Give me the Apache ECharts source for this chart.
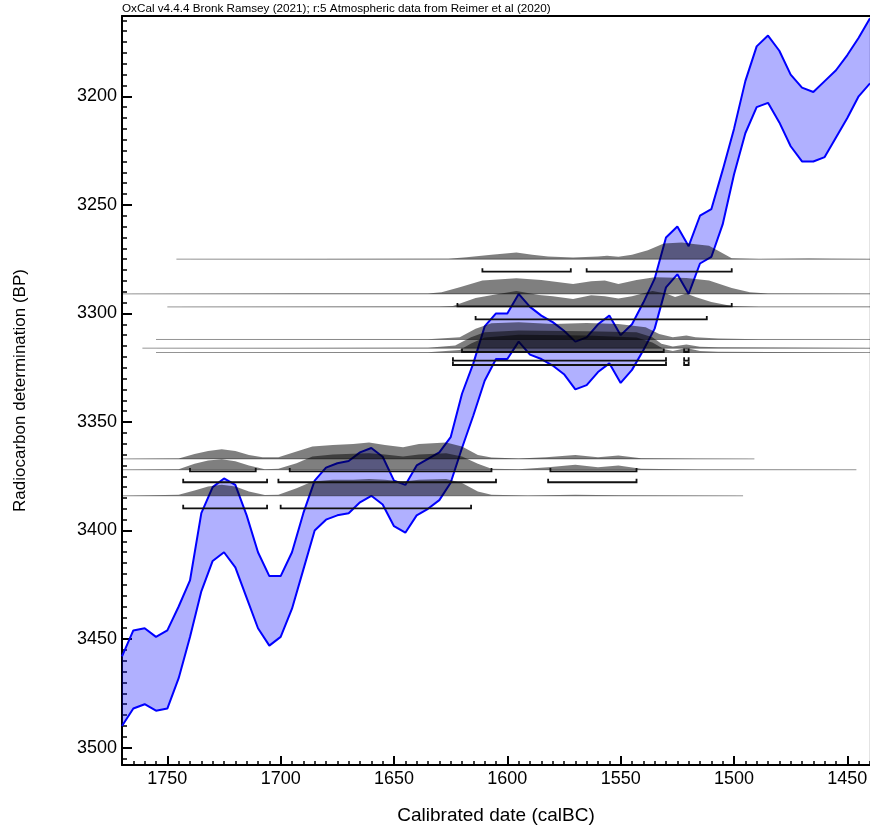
<!DOCTYPE html>
<html><head><meta charset="utf-8">
<script src="https://cdn.jsdelivr.net/npm/echarts@6/dist/echarts.min.js"></script>
<style>html,body{margin:0;padding:0;background:#fff}#c{width:870px;height:833px}</style>
</head><body><div id="c"></div>
<script>
const TITLE = 'OxCal v4.4.4 Bronk Ramsey (2021); r:5 Atmospheric data from Reimer et al (2020)';
const X_NAME = 'Calibrated date (calBC)';
const Y_NAME = 'Radiocarbon determination (BP)';
const X_TICKS = [1750, 1700, 1650, 1600, 1550, 1500, 1450];
const Y_TICKS = [3200, 3250, 3300, 3350, 3400, 3450, 3500];

// Calibration curve (cal BC, BP): upper and lower 1-sigma edges
const CURVE_YEARS = [1770,1765,1760,1755,1750,1745,1740,1735,1730,1725,1720,1715,1710,1705,1700,1695,1690,1685,1680,1675,1670,1665,1660,1655,1650,1645,1640,1635,1630,1625,1620,1615,1610,1605,1600,1595,1590,1585,1580,1575,1570,1565,1560,1555,1550,1545,1540,1535,1530,1525,1520,1515,1510,1505,1500,1495,1490,1485,1480,1475,1470,1465,1460,1455,1450,1445,1440];
const CURVE_UPPER = [3458,3446,3445,3449,3446,3435,3423,3392,3380,3376,3379,3393,3410,3421,3421,3410,3392,3377,3371,3369,3368,3364,3362,3366,3377,3379,3370,3367,3364,3357,3337,3323,3306,3300,3300,3291,3297,3301,3304,3308,3313,3311,3305,3301,3310,3305,3295,3284,3265,3260,3269,3255,3252,3234,3215,3193,3177,3172,3179,3190,3196,3198,3193,3188,3181,3173,3164];
const CURVE_LOWER = [3490,3482,3480,3483,3482,3468,3449,3428,3414,3410,3417,3431,3445,3453,3449,3436,3418,3400,3395,3393,3392,3387,3384,3388,3398,3401,3393,3390,3386,3378,3362,3347,3331,3321,3321,3313,3319,3321,3324,3328,3335,3333,3327,3323,3332,3326,3317,3307,3288,3282,3291,3277,3274,3259,3236,3217,3205,3203,3212,3223,3230,3230,3228,3219,3210,3200,3194];

// Radiocarbon determinations (BP) of the plotted samples
const DATE_BP = [3275, 3291, 3297, 3312, 3316, 3318, 3367, 3372, 3384];

// Calibrated distributions: [cal BC, relative probability]
const DIST_1 = [[1746,0],[1626,0.3],[1618,2],[1607,4.3],[1596,6.6],[1589,4.3],[1582,2.6],[1571,1.6],[1560,2.6],[1556,3.3],[1551,2.3],[1545,4.3],[1538,9],[1531,15.6],[1523,16.6],[1517,15],[1511,13.3],[1507,8.3],[1501,1],[1489,0.2],[1467,0.6],[1457,0.4],[1440,0.1]];
const DIST_2 = [[1770,0],[1692,0.3],[1652,0.4],[1635,0.5],[1629,1.6],[1621,6.6],[1611,13.3],[1596,15.6],[1585,14],[1571,10],[1563,12.6],[1557,13.3],[1551,10],[1543,14],[1535,16.6],[1521,16],[1511,13.3],[1501,6],[1493,1.6],[1485,0.4],[1440,0.2]];
const DIST_3 = [[1750,0],[1630,0.3],[1624,1],[1614,9],[1604,13],[1596,16],[1586,12],[1580,10.6],[1571,8],[1563,11.6],[1557,10.6],[1551,8.3],[1545,10.6],[1536,16],[1530,13.3],[1526,10],[1521,13.3],[1517,10],[1510,5],[1501,0.8],[1489,0.2],[1440,0.1]];
const DIST_4 = [[1755,0],[1635,0.3],[1621,2.3],[1614,10.7],[1607,16.3],[1595,17.3],[1580,15.6],[1565,16.6],[1551,15.6],[1539,12.3],[1533,5.6],[1527,2.3],[1521,4],[1517,2.3],[1507,1],[1489,0.3],[1440,0.1]];
const DIST_5 = [[1761,0],[1635,0.3],[1623,2.7],[1616,11],[1610,16],[1595,17.7],[1565,17],[1543,16],[1536,11],[1532,4.4],[1527,1.7],[1521,3.7],[1515,1.5],[1507,0.8],[1440,0.1]];
const DIST_6 = [[1755,0],[1635,0.3],[1621,2.4],[1616,9],[1610,15],[1595,17.7],[1565,17],[1543,15],[1536,10],[1531,3.4],[1527,1.5],[1521,4.4],[1515,1.5],[1507,0.8],[1440,0.1]];
const DIST_7 = [[1770,0],[1745,0.4],[1738,5],[1732,8],[1726,9.6],[1720,8],[1714,4],[1708,1.6],[1701,1.6],[1693,7.3],[1686,12.3],[1677,14],[1668,15],[1661,16.3],[1654,14],[1646,11.6],[1639,15],[1627,16.3],[1620,12.3],[1613,4],[1607,1.3],[1595,0.5],[1583,1.6],[1570,4],[1560,1.6],[1551,3.3],[1541,0.6],[1516,0.2],[1491,0]];
const DIST_8 = [[1770,0],[1745,0.4],[1738,6],[1732,9.3],[1726,10.6],[1720,8.6],[1714,4.3],[1707,0.6],[1701,1],[1693,6.6],[1686,13.3],[1677,15.3],[1668,16],[1661,16.6],[1654,15.3],[1646,13.3],[1639,15.3],[1627,16.6],[1620,13.3],[1613,6],[1607,1],[1595,0.6],[1582,2.6],[1570,5],[1560,2.6],[1551,4.3],[1541,1],[1516,0.3],[1446,0]];
const DIST_9 = [[1770,0],[1745,1],[1738,5.3],[1732,9.3],[1726,11],[1720,9.3],[1714,4.3],[1707,0.7],[1701,1],[1693,7.6],[1686,14.3],[1677,16],[1668,16],[1661,16.7],[1654,16],[1646,14.3],[1639,16],[1627,16.7],[1620,12.7],[1613,4.3],[1607,1],[1591,0.4],[1570,1],[1551,0.5],[1496,0]];

// 95.4% ranges (cal BC from, to)
const RANGES_1 = [[1611,1572],[1565,1501]];
const RANGES_2 = [[1622,1501]];
const RANGES_3 = [[1614,1512]];
const RANGES_4 = [[1620,1531],[1522,1520]];
const RANGES_5 = [[1624,1530],[1522,1520]];
const RANGES_6 = [[1624,1530],[1522,1520]];
const RANGES_7 = [[1740,1711],[1696,1607],[1581,1543]];
const RANGES_8 = [[1743,1706],[1701,1605],[1582,1543]];
const RANGES_9 = [[1743,1706],[1700,1616]];

const DISTS = [DIST_1, DIST_2, DIST_3, DIST_4, DIST_5, DIST_6, DIST_7, DIST_8, DIST_9];
const RANGES = [RANGES_1, RANGES_2, RANGES_3, RANGES_4, RANGES_5, RANGES_6, RANGES_7, RANGES_8, RANGES_9];

const FONT = '"Liberation Sans", Arial, Helvetica, sans-serif';
const PROB_PX = 1.0;      // px per unit of relative probability
const BRACKET_DROP = 12.5; // px below the baseline
const BRACKET_TICK = 3.5;

const minorX = []; for (let v = 1440; v <= 1770; v += 5) minorX.push(v);
const minorY = []; for (let v = 3165; v <= 3505; v += 5) minorY.push(v);

const plain = v => String(v);
const xBase = { type: 'value', min: 1440, max: 1770, inverse: true, splitLine: { show: false } };
const yBase = { type: 'value', min: 3163, max: 3508, inverse: true, splitLine: { show: false } };

const chart = echarts.init(document.getElementById('c'));
chart.setOption({
  animation: false,
  backgroundColor: '#fff',
  title: { text: TITLE, left: 122, top: 3, padding: 0,
    textStyle: { fontSize: 11.7, fontWeight: 'normal', color: '#000', fontFamily: FONT } },
  grid: { left: 122, right: 0, top: 16, bottom: 68, containLabel: false, outerBoundsMode: 'none',
    show: true, borderColor: '#c8c8c8', borderWidth: 1 },
  xAxis: [
    Object.assign({}, xBase, { position: 'bottom',
      axisLine: { show: true, lineStyle: { color: '#000', width: 2 } },
      axisTick: { show: true, inside: true, length: 9, customValues: X_TICKS, lineStyle: { color: '#000', width: 2 } },
      axisLabel: { customValues: X_TICKS, formatter: plain, color: '#000', fontSize: 18, fontFamily: FONT, margin: 5 },
      name: X_NAME, nameLocation: 'middle', nameGap: 41,
      nameTextStyle: { fontSize: 19, color: '#000', fontFamily: FONT } }),
    Object.assign({}, xBase, { position: 'bottom',
      axisLine: { show: false },
      axisTick: { show: true, inside: true, length: 4, customValues: minorX, lineStyle: { color: '#000', width: 1.5 } },
      axisLabel: { show: false } }),
    Object.assign({}, xBase, { position: 'top',
      axisLine: { show: true, lineStyle: { color: '#000', width: 2 } },
      axisTick: { show: false }, axisLabel: { show: false } })
  ],
  yAxis: [
    Object.assign({}, yBase, { position: 'left',
      axisLine: { show: true, lineStyle: { color: '#000', width: 2 } },
      axisTick: { show: true, inside: true, length: 10, customValues: Y_TICKS, lineStyle: { color: '#000', width: 2 } },
      axisLabel: { customValues: Y_TICKS, formatter: plain, color: '#000', fontSize: 18, fontFamily: FONT, margin: 5 },
      name: Y_NAME, nameLocation: 'middle', nameGap: 93,
      nameTextStyle: { fontSize: 17, color: '#000', fontFamily: FONT } }),
    Object.assign({}, yBase, { position: 'left',
      axisLine: { show: false },
      axisTick: { show: true, inside: true, length: 5, customValues: minorY, lineStyle: { color: '#000', width: 1.5 } },
      axisLabel: { show: false } })
  ],
  series: [
    { type: 'custom', name: 'band', silent: true, clip: true, z: 1,
      data: [[CURVE_YEARS[0], CURVE_UPPER[0]]],
      renderItem: function (params, api) {
        const pts = [];
        for (let i = 0; i < CURVE_YEARS.length; i++) pts.push(api.coord([CURVE_YEARS[i], CURVE_UPPER[i]]));
        for (let i = CURVE_YEARS.length - 1; i >= 0; i--) pts.push(api.coord([CURVE_YEARS[i], CURVE_LOWER[i]]));
        return { type: 'polygon', shape: { points: pts }, style: { fill: 'rgba(0,0,255,0.31)' } };
      } },
    { type: 'line', name: 'upper', silent: true, z: 2, symbol: 'none',
      data: CURVE_YEARS.map((y, i) => [y, CURVE_UPPER[i]]),
      lineStyle: { color: '#0000ff', width: 2 } },
    { type: 'line', name: 'lower', silent: true, z: 2, symbol: 'none',
      data: CURVE_YEARS.map((y, i) => [y, CURVE_LOWER[i]]),
      lineStyle: { color: '#0000ff', width: 2 } },
    { type: 'custom', name: 'dists', silent: true, clip: true, z: 3,
      data: DATE_BP.map((bp, i) => [DISTS[i][0][0], bp]),
      renderItem: function (params, api) {
        const i = params.dataIndex;
        const d = DISTS[i], bp = DATE_BP[i];
        const pts = [];
        const a = api.coord([d[0][0], bp]);
        const b = api.coord([d[d.length - 1][0], bp]);
        pts.push(a);
        for (const p of d) {
          const c = api.coord([p[0], bp]);
          pts.push([c[0], c[1] - p[1] * PROB_PX]);
        }
        pts.push(b);
        return { type: 'group', children: [
          { type: 'polygon', shape: { points: pts }, style: { fill: 'rgba(0,0,0,0.5)' } },
          { type: 'line', shape: { x1: a[0], y1: a[1], x2: b[0], y2: b[1] }, style: { stroke: 'rgba(0,0,0,0.42)', lineWidth: 1 } }
        ] };
      } },
    { type: 'custom', name: 'ranges', silent: true, clip: true, z: 4,
      data: DATE_BP.map((bp, i) => [RANGES[i][0][0], bp]),
      renderItem: function (params, api) {
        const i = params.dataIndex;
        const bp = DATE_BP[i];
        const children = RANGES[i].map(r => {
          const p1 = api.coord([r[0], bp]);
          const p2 = api.coord([r[1], bp]);
          const y = p1[1] + BRACKET_DROP;
          return { type: 'polyline',
            shape: { points: [[p1[0], y - BRACKET_TICK], [p1[0], y], [p2[0], y], [p2[0], y - BRACKET_TICK]] },
            style: { stroke: '#111', lineWidth: 1.8, fill: null } };
        });
        return { type: 'group', children: children };
      } }
  ]
});
</script>
</body></html>
